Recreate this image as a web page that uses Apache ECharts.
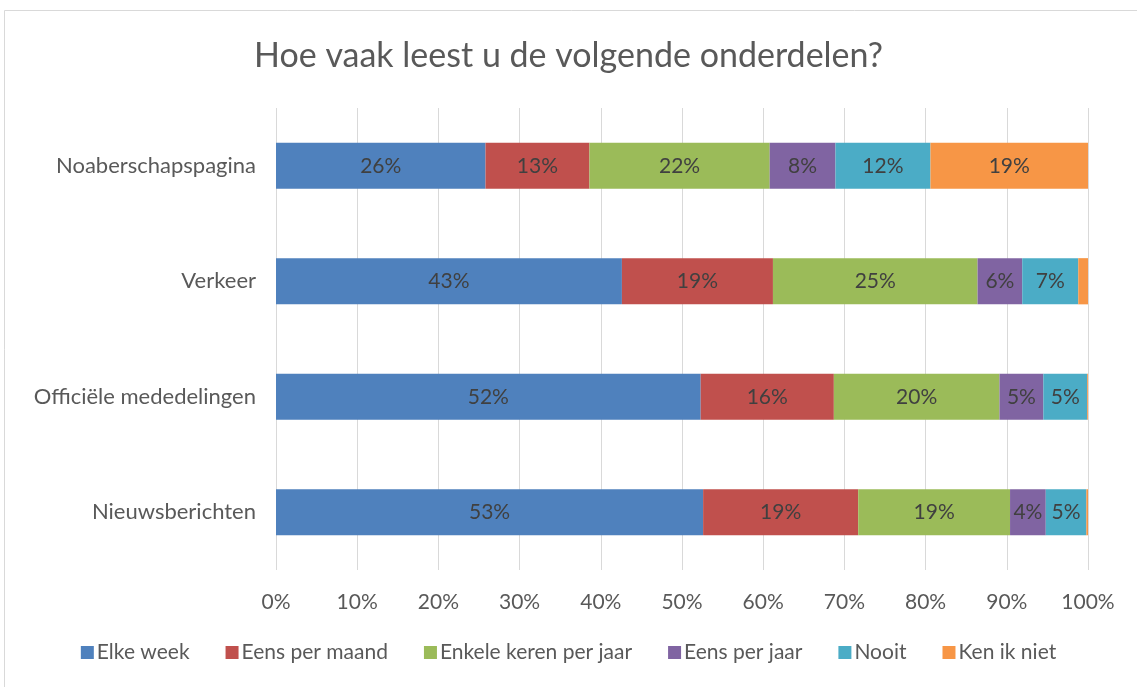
<!DOCTYPE html>
<html><head><meta charset="utf-8">
<script src="https://cdn.jsdelivr.net/npm/echarts@6/dist/echarts.min.js"></script>
<style>html,body{margin:0;padding:0;background:#fff}#c{width:1137px;height:687px}</style>
</head><body><div id="c"></div>
<script>
const categories = ['Nieuwsberichten', 'Officiële mededelingen', 'Verkeer', 'Noaberschapspagina'];
const seriesNames = ['Elke week', 'Eens per maand', 'Enkele keren per jaar', 'Eens per jaar', 'Nooit', 'Ken ik niet'];
const elkeWeek = [52.6, 52.3, 42.6, 25.8];
const eensPerMaand = [19.1, 16.4, 18.6, 12.8];
const enkeleKeren = [18.7, 20.4, 25.2, 22.2];
const eensPerJaar = [4.4, 5.4, 5.5, 8.1];
const nooit = [5.0, 5.4, 6.9, 11.7];
const kenIkNiet = [0.2, 0.1, 1.2, 19.4];
const xTicks = ['0%','10%','20%','30%','40%','50%','60%','70%','80%','90%','100%'];
const colors = ['#4f81bd', '#c0504d', '#9bbb59', '#8064a2', '#4bacc6', '#f79646'];
const values = [elkeWeek, eensPerMaand, enkeleKeren, eensPerJaar, nooit, kenIkNiet];

const FONT = 'Lato';
const chart = echarts.init(document.getElementById('c'));
chart.setOption({
  animation: false,
  backgroundColor: '#fff',
  title: {
    text: 'Hoe vaak leest u de volgende onderdelen?',
    left: 'center', top: 34,
    textStyle: {fontFamily: FONT, fontSize: 34, fontWeight: 'normal', color: '#595959'}
  },
  graphic: [{type: 'rect', shape: {x: 4.5, y: 10.5, width: 1140, height: 690}, style: {fill: 'none', stroke: '#d9d9d9', lineWidth: 1}}],
  legend: {
    bottom: 19, left: 'center', itemWidth: 13, itemHeight: 13, itemGap: 36,
    icon: 'rect',
    textStyle: {fontFamily: FONT, fontSize: 21, color: '#595959', padding: [0,0,0,-2]},
    data: seriesNames
  },
  grid: {left: 276, right: 49, top: 108, bottom: 117},
  xAxis: {
    type: 'value', min: 0, max: 100, interval: 10,
    axisLine: {show: false}, axisTick: {show: false},
    splitLine: {lineStyle: {color: '#d9d9d9', width: 1}},
    axisLabel: {fontFamily: FONT, fontSize: 21, color: '#595959', margin: 22,
      formatter: v => xTicks[Math.round(v/10)]}
  },
  yAxis: {
    type: 'category', data: categories,
    axisLine: {show: false}, axisTick: {show: false},
    axisLabel: {fontFamily: FONT, fontSize: 22, color: '#595959', margin: 20}
  },
  series: seriesNames.map((n, i) => ({
    name: n, type: 'bar', stack: 'total', barWidth: '40%',
    itemStyle: {color: colors[i]},
    label: {
      show: true, position: 'inside',
      fontFamily: FONT, fontSize: 21, color: '#404040',
      formatter: p => p.value >= 2 ? Math.round(p.value) + '%' : ''
    },
    data: values[i]
  }))
});
</script></body></html>
